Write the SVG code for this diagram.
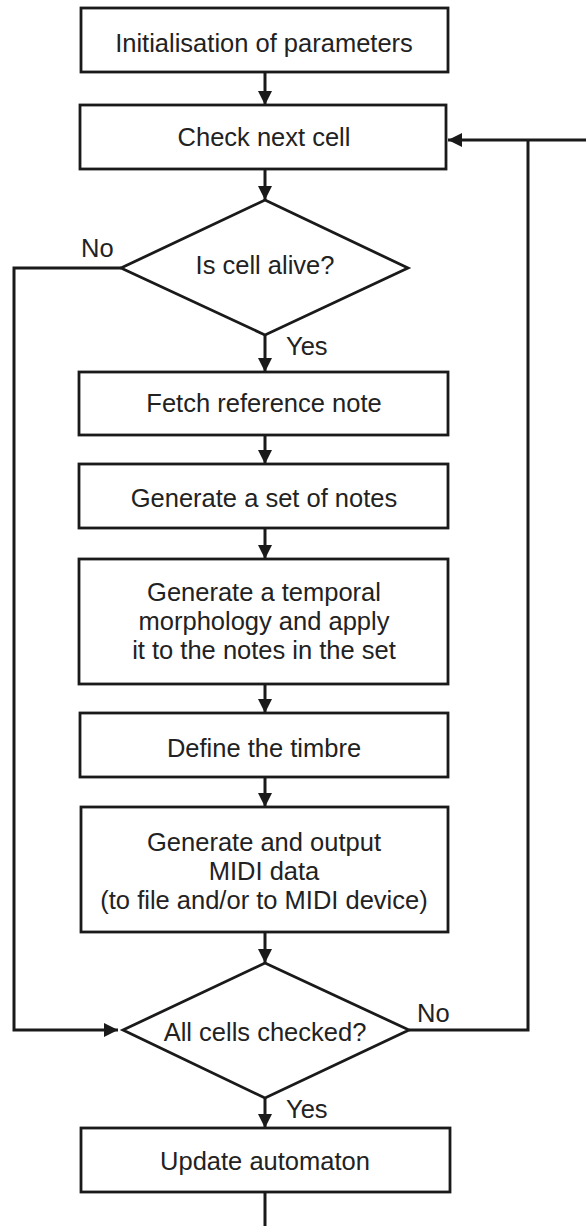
<svg xmlns="http://www.w3.org/2000/svg" width="586" height="1226" viewBox="0 0 586 1226">
<style>
.box{fill:#fff;stroke:#1a1a1a;stroke-width:2.8}
.ln{fill:none;stroke:#1a1a1a;stroke-width:3}
text{font-family:"Liberation Sans",Arial,sans-serif;font-size:25.5px;fill:#222}
.c{text-anchor:middle}
</style>
<defs>
<marker id="ah" markerUnits="userSpaceOnUse" markerWidth="15" markerHeight="14" refX="14" refY="7" orient="auto">
<path d="M0,0 L14,7 L0,14 Z" fill="#1a1a1a"/>
</marker>
</defs>
<rect width="586" height="1226" fill="#fff"/>
<g id="connectors">
<line class="ln" x1="265" y1="72" x2="265" y2="105" marker-end="url(#ah)"/>
<line class="ln" x1="265" y1="169" x2="265" y2="200" marker-end="url(#ah)"/>
<line class="ln" x1="265" y1="335" x2="265" y2="372" marker-end="url(#ah)"/>
<line class="ln" x1="265" y1="435" x2="265" y2="464" marker-end="url(#ah)"/>
<line class="ln" x1="265" y1="528" x2="265" y2="559" marker-end="url(#ah)"/>
<line class="ln" x1="265" y1="684" x2="265" y2="713" marker-end="url(#ah)"/>
<line class="ln" x1="265" y1="777" x2="265" y2="807" marker-end="url(#ah)"/>
<line class="ln" x1="265" y1="932" x2="265" y2="963" marker-end="url(#ah)"/>
<line class="ln" x1="265" y1="1098" x2="265" y2="1128" marker-end="url(#ah)"/>
<line class="ln" x1="265" y1="1192" x2="265" y2="1226"/>
<polyline class="ln" points="121,268 14,268 14,1030 118,1030" marker-end="url(#ah)"/>
<polyline class="ln" points="409,1030 528,1030 528,140"/>
<line class="ln" x1="586" y1="140" x2="448" y2="140" marker-end="url(#ah)"/>
<text x="81" y="257">No</text>
<text x="286" y="355">Yes</text>
<text x="417" y="1022">No</text>
<text x="286" y="1118">Yes</text>
</g>
<g id="n1"><rect class="box" x="81" y="8" width="367" height="64"/><text class="c" x="264" y="52">Initialisation of parameters</text></g>
<g id="n2"><rect class="box" x="80" y="105" width="366" height="64"/><text class="c" x="264" y="146">Check next cell</text></g>
<g id="n3"><polygon class="box" points="265,200 408,268 265,335 121,268"/><text class="c" x="265" y="274">Is cell alive?</text></g>
<g id="n4"><rect class="box" x="79" y="372" width="369" height="63"/><text class="c" x="264" y="412">Fetch reference note</text></g>
<g id="n5"><rect class="box" x="79" y="464" width="369" height="64"/><text class="c" x="264" y="507">Generate a set of notes</text></g>
<g id="n6"><rect class="box" x="79" y="559" width="369" height="125"/><text class="c" x="264" y="601">Generate a temporal</text><text class="c" x="264" y="630">morphology and apply</text><text class="c" x="264" y="659">it to the notes in the set</text></g>
<g id="n7"><rect class="box" x="80" y="713" width="368" height="64"/><text class="c" x="264" y="757">Define the timbre</text></g>
<g id="n8"><rect class="box" x="81" y="807" width="367" height="125"/><text class="c" x="264" y="851">Generate and output</text><text class="c" x="264" y="880">MIDI data</text><text class="c" x="264" y="909">(to file and/or to MIDI device)</text></g>
<g id="n9"><polygon class="box" points="265,963 409,1030 265,1098 123,1030"/><text class="c" x="265" y="1041">All cells checked?</text></g>
<g id="n10"><rect class="box" x="81" y="1128" width="369" height="64"/><text class="c" x="265" y="1170">Update automaton</text></g>
</svg>
